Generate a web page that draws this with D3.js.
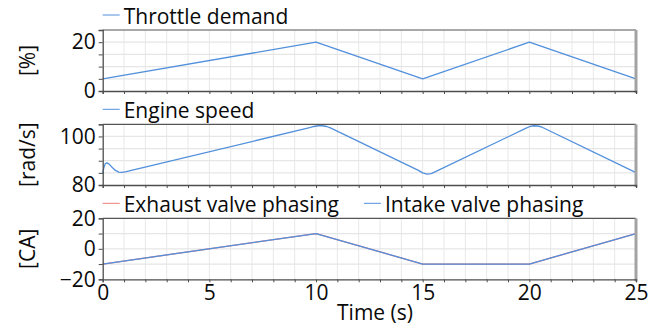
<!DOCTYPE html>
<html>
<head>
<meta charset="utf-8">
<script src="https://cdn.jsdelivr.net/npm/d3@7"></script>
<style>
  body { margin: 0; background: #fff; }
  text { font-family: "Open Sans", sans-serif; fill: #0a0a0a; }
</style>
</head>
<body>
<svg id="chart" width="659" height="329"></svg>
<script>
// Simulation results: throttle command, engine response and cam phasing
const throttleTime   = [0, 10, 15, 20, 25];
const throttleDemand = [5, 20, 5, 20, 5];

const speedTime   = [0, 0.05, 0.12, 0.2, 0.3, 0.45, 0.6, 0.75, 0.9, 1.1,
                     9.7, 9.9, 10.1, 10.3, 10.5, 10.7,
                     14.8, 15.0, 15.2, 15.4, 15.6,
                     19.8, 20.0, 20.2, 20.4, 20.6, 25];
const engineSpeed = [84.6, 87.0, 88.8, 89.1, 88.6, 87.2, 86.0, 85.3, 85.2, 85.5,
                     103.6, 104.1, 104.4, 104.4, 104.1, 103.4,
                     86.0, 85.0, 84.5, 84.7, 85.5,
                     103.2, 104.0, 104.4, 104.3, 103.8, 85.1];

const phasingTime    = [0, 10, 15, 20, 25];
const exhaustPhasing = [-10, 10, -10, -10, 10];
const intakePhasing  = [-10, 10, -10, -10, 10];

const timeTicks          = [0, 5, 10, 15, 20, 25];
const throttleTickLabels = [0, 20];
const speedTickLabels    = [80, 100];
const phasingTickLabels  = [-20, 0, 20];

const BLUE = "#5290dc", RED = "#f07c7c";

const svg = d3.select("#chart");
const x = d3.scaleLinear().domain([0, 25]).range([102.7, 636]);

const panels = [
  { top: 30, bottom: 91, domain: [0, 25], grid: [5, 10, 15, 20], ticks: [0, 5, 10, 15, 20, 25],
    labels: throttleTickLabels, unit: "[%]",
    series: [{ name: "Throttle demand", t: throttleTime, v: throttleDemand, color: BLUE }] },
  { top: 124.3, bottom: 185, domain: [80, 105], grid: [85, 90, 95, 100], ticks: [80, 85, 90, 95, 100, 105],
    labels: speedTickLabels, unit: "[rad/s]",
    series: [{ name: "Engine speed", t: speedTime, v: engineSpeed, color: BLUE }] },
  { top: 218.3, bottom: 279.3, domain: [-20, 20], grid: [-10, 0, 10], ticks: [-20, -10, 0, 10, 20],
    labels: phasingTickLabels, unit: "[CA]", xLabels: true,
    series: [{ name: "Exhaust valve phasing", t: phasingTime, v: exhaustPhasing, color: RED },
             { name: "Intake valve phasing", t: phasingTime, v: intakePhasing, color: BLUE }] }
];

const minorTimes = d3.range(0, 26, 1);

panels.forEach(p => {
  const y = d3.scaleLinear().domain(p.domain).range([p.bottom, p.top]);
  const g = svg.append("g");

  // grid
  g.selectAll(".vg").data(minorTimes.slice(1, -1)).join("line")
    .attr("x1", d => x(d)).attr("x2", d => x(d))
    .attr("y1", p.top).attr("y2", p.bottom)
    .attr("stroke", "#e8e8e8").attr("stroke-width", 1);
  g.selectAll(".hg").data(p.grid).join("line")
    .attr("x1", x.range()[0]).attr("x2", x.range()[1])
    .attr("y1", d => y(d)).attr("y2", d => y(d))
    .attr("stroke", "#e6e6e6").attr("stroke-width", 1.2);

  // series
  const line = d3.line().x(d => x(d[0])).y(d => y(d[1]));
  p.series.forEach(s => {
    g.append("path")
      .datum(s.t.map((t, i) => [t, s.v[i]]))
      .attr("d", line)
      .attr("fill", "none").attr("stroke", s.color).attr("stroke-width", 1.3)
      .attr("stroke-linejoin", "round");
  });

  // frame: top and right borders
  g.append("line").attr("x1", x.range()[0]).attr("x2", x.range()[1])
    .attr("y1", p.top).attr("y2", p.top).attr("stroke", "#555").attr("stroke-width", 1.2);
  g.append("line").attr("x1", x.range()[1]).attr("x2", x.range()[1])
    .attr("y1", p.top).attr("y2", p.bottom + 2).attr("stroke", "#a3a3a3").attr("stroke-width", 3);

  // left axis
  const yAxis = d3.axisLeft(y).tickValues(p.ticks).tickSize(4).tickPadding(3)
    .tickFormat(d => p.labels.includes(d) ? d3.format("d")(d) : "");
  const ya = g.append("g").attr("transform", `translate(${x.range()[0]},0)`).call(yAxis);
  ya.select(".domain").attr("stroke", "#4d4d4d").attr("stroke-width", 1.3);
  ya.selectAll(".tick line").attr("stroke", "#4d4d4d");
  ya.selectAll(".tick text").attr("font-size", 21).attr("font-family", "Open Sans").attr("fill", "#0a0a0a");

  // bottom axis
  const xAxis = d3.axisBottom(x).tickValues(minorTimes).tickSize(3).tickPadding(3)
    .tickFormat(d => p.xLabels && timeTicks.includes(d) ? d : "");
  const xa = g.append("g").attr("transform", `translate(0,${p.bottom})`).call(xAxis);
  xa.select(".domain").attr("stroke", "#4d4d4d").attr("stroke-width", 1.3);
  xa.selectAll(".tick line").attr("stroke", "#4d4d4d");
  xa.selectAll(".tick text").attr("font-size", 21).attr("font-family", "Open Sans").attr("fill", "#0a0a0a");

  // unit label
  g.append("text")
    .attr("transform", `translate(28,${(p.top + p.bottom) / 2}) rotate(-90)`)
    .attr("text-anchor", "middle").attr("dy", "0.35em")
    .attr("font-size", 21).text(p.unit);

  // legend
  let lx = x.range()[0];
  p.series.forEach(s => {
    g.append("line").attr("x1", lx).attr("x2", lx + 17)
      .attr("y1", p.top - 15).attr("y2", p.top - 15)
      .attr("stroke", s.color).attr("stroke-width", 1);
    const t = g.append("text").attr("x", lx + 21).attr("y", p.top - 6)
      .attr("font-size", 21).text(s.name);
    lx += 21 + t.node().getComputedTextLength() + 25;
  });
});

svg.append("text").attr("x", 375).attr("y", 320)
  .attr("text-anchor", "middle").attr("font-size", 21).text("Time (s)");
</script>
</body>
</html>
